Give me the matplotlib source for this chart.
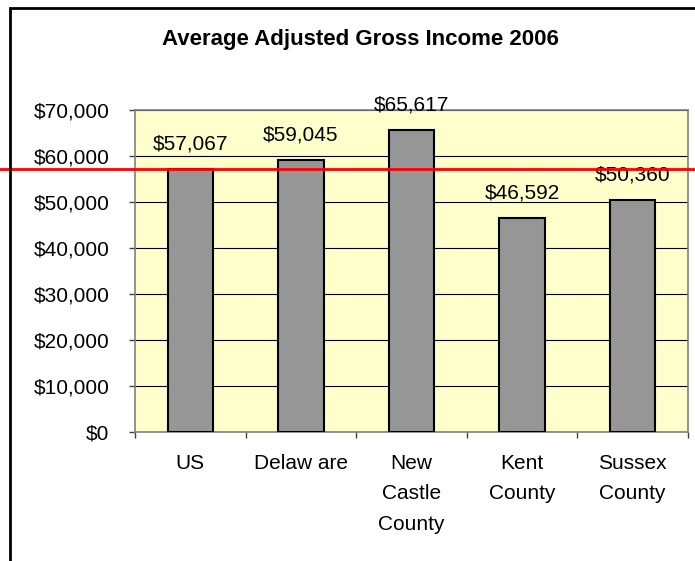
import matplotlib
matplotlib.use("Agg")
import matplotlib.pyplot as plt
from matplotlib.ticker import FuncFormatter, MultipleLocator
from matplotlib.transforms import blended_transform_factory
from matplotlib.patches import Rectangle
from matplotlib.lines import Line2D

categories = ["US", "Delaw are", "New\nCastle\nCounty", "Kent\nCounty", "Sussex\nCounty"]
values = [57067, 59045, 65617, 46592, 50360]
reference_value = 57067
title = "Average Adjusted Gross Income 2006"

plt.rcParams['font.family'] = ['Liberation Sans', 'DejaVu Sans']

W, H = 695, 561
fig = plt.figure(figsize=(W / 100, H / 100), dpi=100)
fig.patch.set_facecolor("white")

ax = fig.add_axes([135 / W, 1 - 432 / H, 553 / W, 322 / H])
ax.set_facecolor("#FFFFCC")

x = list(range(len(categories)))
ax.bar(x, values, width=0.41, color="#969696", edgecolor="black", linewidth=1.5, zorder=3)

ax.set_xlim(-0.5, len(categories) - 0.5)
ax.set_ylim(0, 70000)
ax.yaxis.set_major_locator(MultipleLocator(10000))
ax.yaxis.set_major_formatter(FuncFormatter(lambda v, p: "${:,.0f}".format(v)))
ax.grid(axis="y", color="black", linewidth=0.8, zorder=1)
ax.set_axisbelow(True)

ax.set_xticks(x)
ax.set_xticklabels(categories, linespacing=1.75)
ax.set_xticks([i - 0.5 for i in range(len(categories) + 1)], minor=True)
ax.tick_params(axis="x", which="major", length=0, pad=16, labelsize=15)
ax.tick_params(axis="x", which="minor", length=4, color="#404040", width=1)
ax.tick_params(axis="y", which="major", length=4.3, pad=14, labelsize=15, color="#404040", width=1)

for s in ax.spines.values():
    s.set_color("#808080")
    s.set_linewidth(1.2)

for xi, v in zip(x, values):
    ax.annotate("${:,.0f}".format(v), (xi, v), xytext=(0, 18), textcoords="offset points",
                ha="center", va="center", fontsize=15, zorder=5)

fig.text(360 / W, 1 - 40 / H, title, ha="center", va="center", fontsize=16, fontweight="bold")

# chart area border (extends past the right and bottom edges)
fig.patches.append(Rectangle((10 / W, -0.1), 1.2, 1 - 8 / H + 0.1, transform=fig.transFigure,
                             fill=False, edgecolor="black", linewidth=2, zorder=0))

# red reference line across the whole figure at the US value
trans = blended_transform_factory(fig.transFigure, ax.transData)
ax.add_line(Line2D([0, 1], [reference_value, reference_value], transform=trans,
                   color="red", linewidth=2, clip_on=False, zorder=6))

fig.savefig("out.png", dpi=100)
